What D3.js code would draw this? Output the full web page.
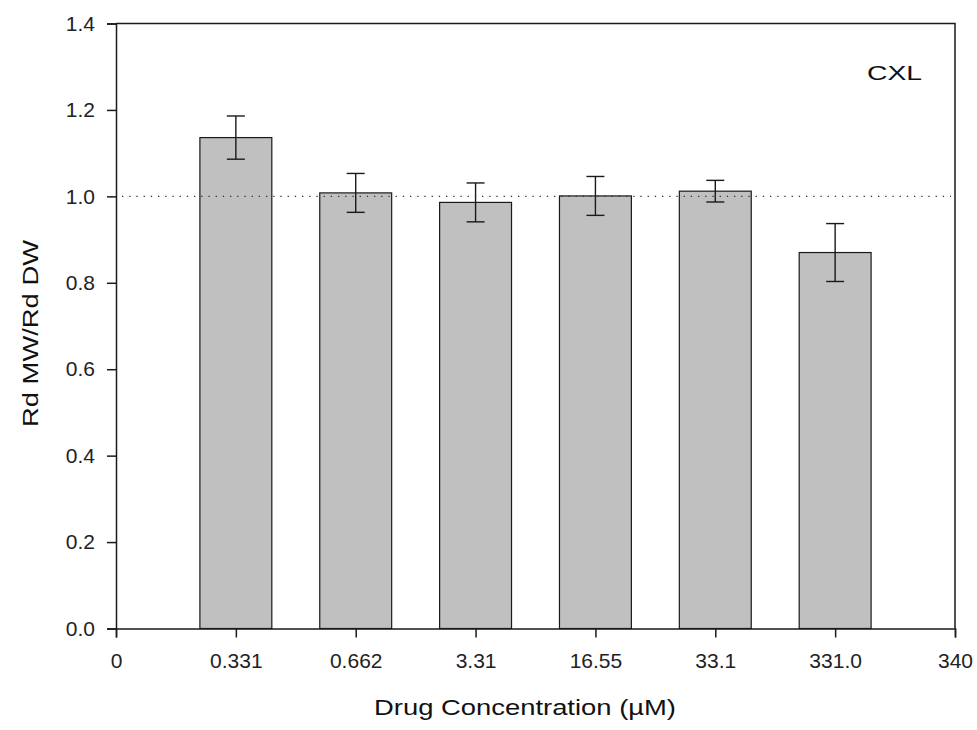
<!DOCTYPE html>
<html>
<head>
<meta charset="utf-8">
<script src="https://cdn.jsdelivr.net/npm/d3@7"></script>
<style>
  html, body { margin: 0; padding: 0; background: #fff; }
  svg { display: block; font-family: "Liberation Sans", Arial, sans-serif; }
</style>
</head>
<body>
<svg id="chart" width="977" height="730"></svg>
<script>
const categories = ["0.331", "0.662", "3.31", "16.55", "33.1", "331.0"];
const values = [1.136, 1.008, 0.986, 1.001, 1.012, 0.870];
const errors = [0.050, 0.045, 0.045, 0.045, 0.025, 0.067];
const xTickLabels = ["0", ...categories, "340"];
const yTicks = [0, 0.2, 0.4, 0.6, 0.8, 1.0, 1.2, 1.4];
const referenceLine = 1.0;
const panelLabel = "CXL";
const xTitle = "Drug Concentration (µM)";
const yTitle = "Rd MW/Rd DW";

(function () {
const svg = d3.select("#chart");
const pL = 116, pR = 955, pT = 23.5, pB = 628.5;

const x = d3.scalePoint().domain(xTickLabels).range([pL, pR]).padding(0);
const y = d3.scaleLinear().domain([0, 1.4]).range([pB, pT]);
const barW = x.step() * 0.6;
const ink = "#1a1a1a";

// bars
const data = categories.map((c, i) => ({ c, v: values[i], e: errors[i] }));
svg.append("g").selectAll("rect").data(data).join("rect")
  .attr("x", d => x(d.c) - barW / 2)
  .attr("y", d => y(d.v))
  .attr("width", barW)
  .attr("height", d => y(0) - y(d.v))
  .attr("fill", "#c0c0c0")
  .attr("stroke", ink)
  .attr("stroke-width", 1.2);

// error bars
const eb = svg.append("g").attr("stroke", ink).attr("stroke-width", 1.4);
data.forEach(d => {
  const cx = x(d.c);
  eb.append("line").attr("x1", cx).attr("x2", cx).attr("y1", y(d.v + d.e)).attr("y2", y(d.v - d.e));
  eb.append("line").attr("x1", cx - 9).attr("x2", cx + 9).attr("y1", y(d.v + d.e)).attr("y2", y(d.v + d.e));
  eb.append("line").attr("x1", cx - 9).attr("x2", cx + 9).attr("y1", y(d.v - d.e)).attr("y2", y(d.v - d.e));
});

// reference dotted line
svg.append("line")
  .attr("x1", pL + 6).attr("x2", pR - 4)
  .attr("y1", y(referenceLine)).attr("y2", y(referenceLine))
  .attr("stroke", "#333").attr("stroke-width", 1.3)
  .attr("stroke-dasharray", "1.3,5.9");

// frame (top and right)
svg.append("path")
  .attr("d", `M${pL},${pT}H${pR}V${pB}`)
  .attr("fill", "none").attr("stroke", ink).attr("stroke-width", 1.5);

// y axis
const yAxis = svg.append("g").attr("transform", `translate(${pL},0)`)
  .call(d3.axisLeft(y).tickValues(yTicks).tickFormat(d3.format(".1f")).tickSize(9).tickPadding(12));
// x axis
const xAxis = svg.append("g").attr("transform", `translate(0,${pB})`)
  .call(d3.axisBottom(x).tickSize(9).tickPadding(16));

[yAxis, xAxis].forEach(g => {
  g.select(".domain").attr("stroke", ink).attr("stroke-width", 1.5);
  g.selectAll(".tick line").attr("stroke", ink).attr("stroke-width", 1.5);
  g.selectAll(".tick text").attr("fill", "#222").style("font-size", "21px")
    .style("font-family", '"Liberation Sans", Arial, sans-serif');
});

// titles
svg.append("text").attr("x", 525).attr("y", 715)
  .attr("text-anchor", "middle").attr("fill", "#111").style("font-size", "22px")
  .attr("textLength", 302).attr("lengthAdjust", "spacingAndGlyphs").text(xTitle);
svg.append("text").attr("transform", `translate(38,333.5) rotate(-90)`)
  .attr("text-anchor", "middle").attr("fill", "#111").style("font-size", "22px")
  .attr("textLength", 187).attr("lengthAdjust", "spacingAndGlyphs").text(yTitle);

svg.append("text").attr("x", 867).attr("y", 79.5)
  .attr("text-anchor", "start").attr("fill", "#111").style("font-size", "21px")
  .attr("textLength", 55).attr("lengthAdjust", "spacingAndGlyphs").text(panelLabel);
})();
</script>
</body>
</html>
